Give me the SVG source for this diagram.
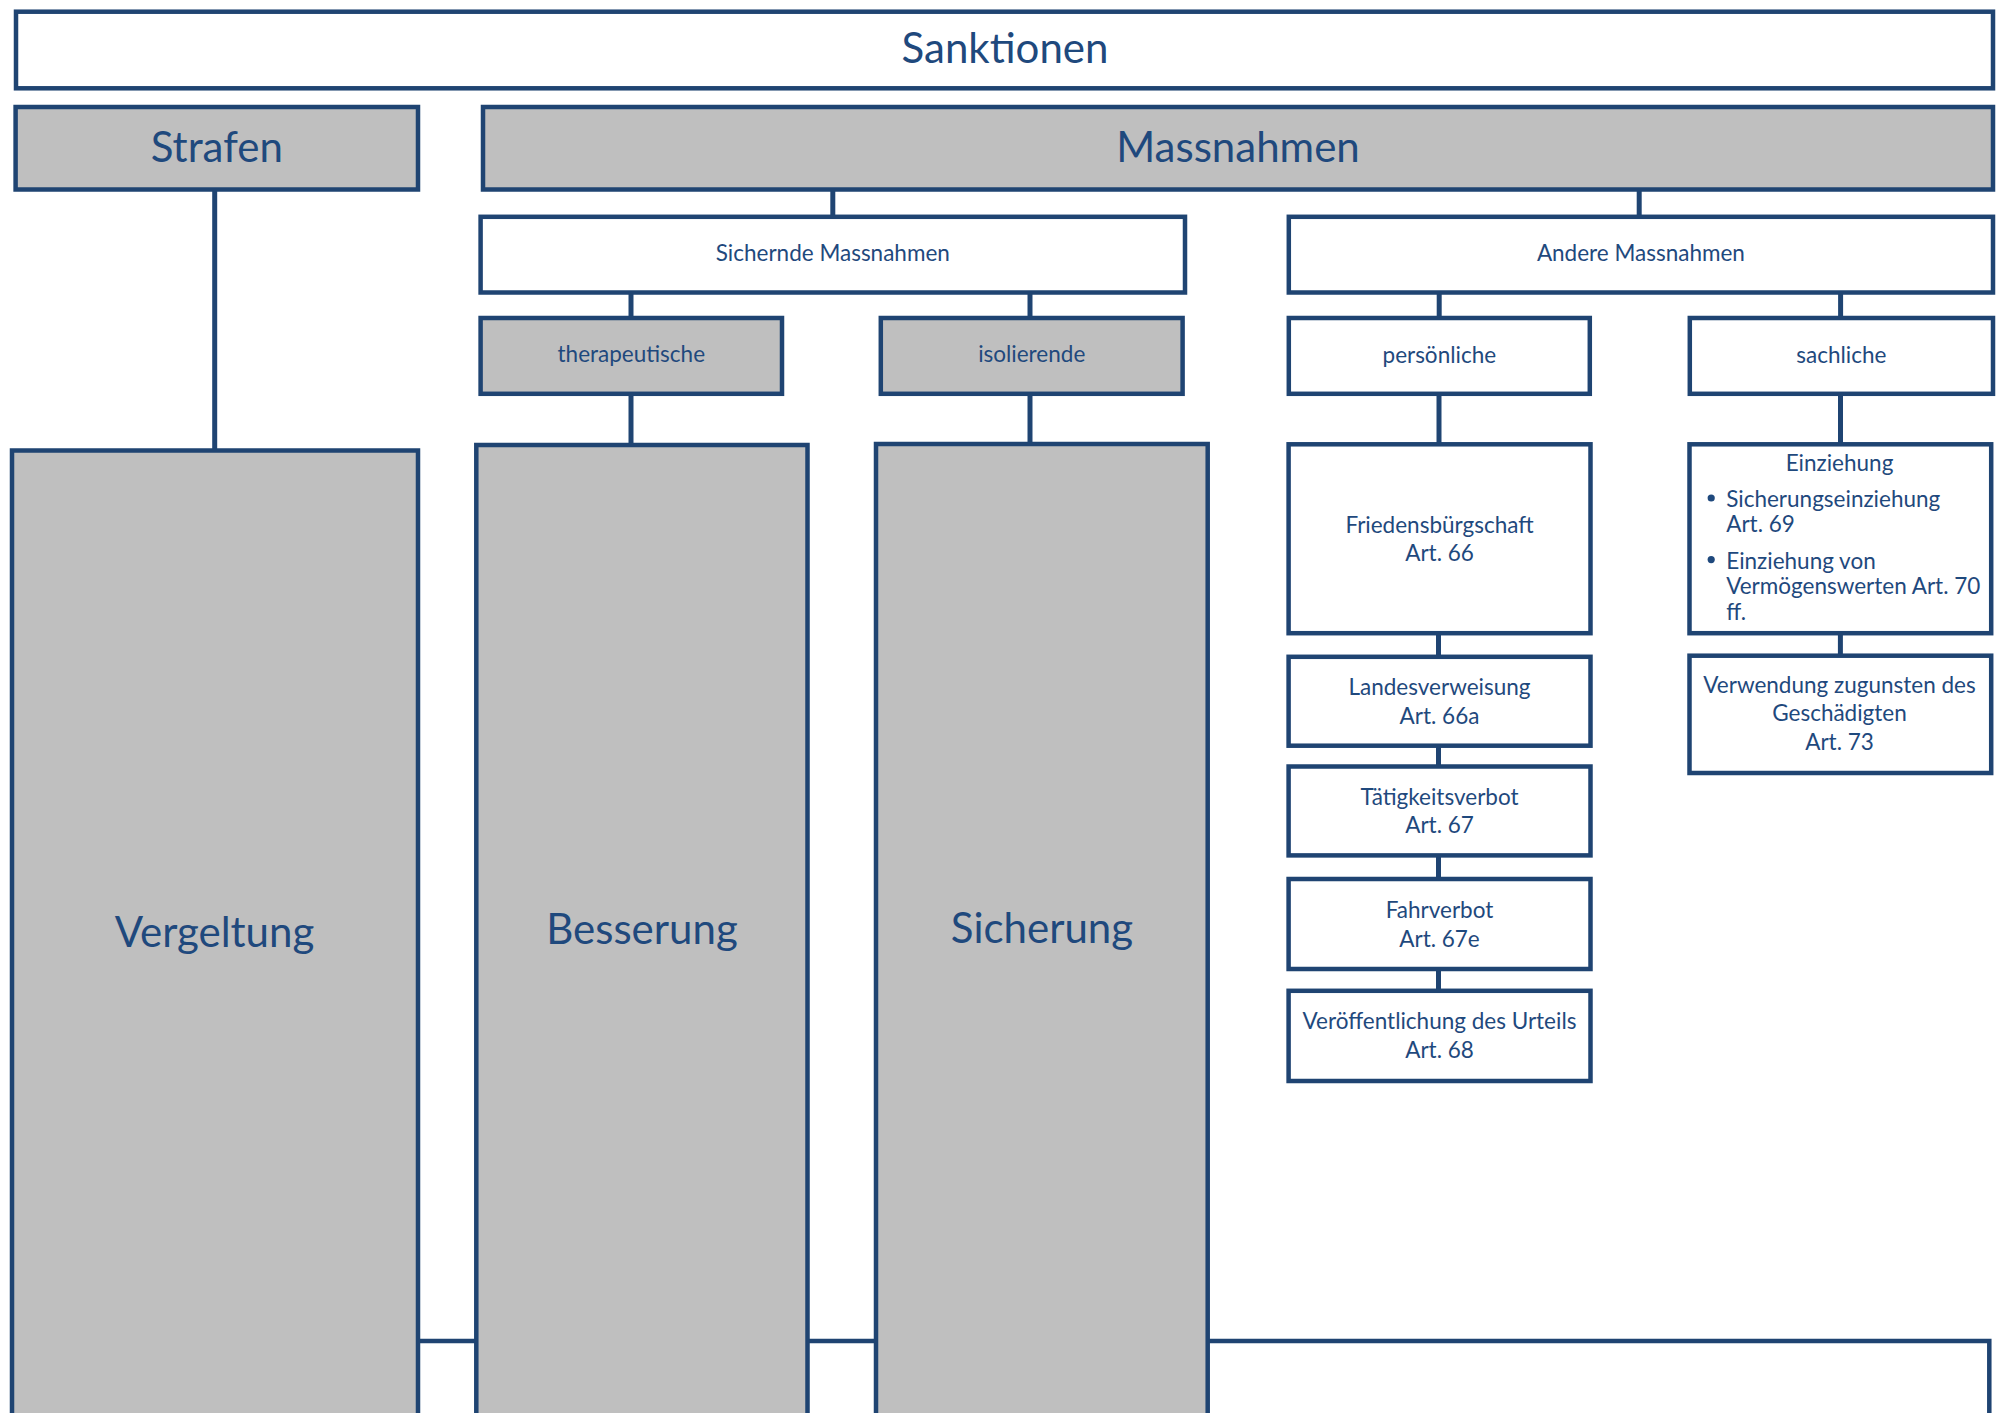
<svg xmlns="http://www.w3.org/2000/svg" width="2011" height="1413" viewBox="0 0 2011 1413">
  <style>
    .box { fill: #ffffff; stroke: #1F4472; stroke-width: 4.5; }
    .grey { fill: #BFBFBF; stroke: #1F4472; stroke-width: 4.5; }
    .link { stroke: #1F4472; stroke-width: 5; fill: none; }
    text { font-family: Lato, "Open Sans", "Liberation Sans", sans-serif; fill: #1F497D; }
    .big { font-size: 42px; text-anchor: middle; }
    .small { font-size: 22.5px; text-anchor: middle; }
    .left { font-size: 22.5px; text-anchor: start; }
  </style>

  <rect width="2011" height="1413" fill="#ffffff"/>

  <!-- base frame behind the tall columns -->
  <g id="basis">
    <rect class="box" x="20" y="1341" width="1969.3" height="200"/>
  </g>

  <!-- connectors -->
  <g id="connectors">
    <line class="link" x1="214.7" y1="189.5" x2="214.7" y2="450.5"/>
    <line class="link" x1="832.8" y1="189.5" x2="832.8" y2="216.8"/>
    <line class="link" x1="1639.2" y1="189.5" x2="1639.2" y2="216.8"/>
    <line class="link" x1="631" y1="292.5" x2="631" y2="318"/>
    <line class="link" x1="1030" y1="292.5" x2="1030" y2="318"/>
    <line class="link" x1="1439.2" y1="292.5" x2="1439.2" y2="318"/>
    <line class="link" x1="1840.6" y1="292.5" x2="1840.6" y2="318"/>
    <line class="link" x1="631" y1="393.8" x2="631" y2="445"/>
    <line class="link" x1="1030" y1="393.8" x2="1030" y2="444"/>
    <line class="link" x1="1439" y1="393.8" x2="1439" y2="444.3"/>
    <line class="link" x1="1840.5" y1="393.8" x2="1840.5" y2="444.3"/>
    <line class="link" x1="1438.5" y1="633.2" x2="1438.5" y2="656.8"/>
    <line class="link" x1="1438.5" y1="745.7" x2="1438.5" y2="766.5"/>
    <line class="link" x1="1438.5" y1="855.4" x2="1438.5" y2="879"/>
    <line class="link" x1="1438.5" y1="969" x2="1438.5" y2="990.8"/>
    <line class="link" x1="1840.4" y1="633.2" x2="1840.4" y2="655.7"/>
  </g>

  <g id="sanktionen">
    <rect class="box" x="16" y="11.7" width="1977" height="76.6"/>
    <text class="big" x="1005" y="63">Sanktionen</text>
  </g>

  <g id="strafen">
    <rect class="grey" x="15.6" y="107" width="402.4" height="82.5"/>
    <text class="big" x="216.8" y="162">Strafen</text>
  </g>

  <g id="massnahmen">
    <rect class="grey" x="483" y="107" width="1510" height="82.5"/>
    <text class="big" x="1238" y="162">Massnahmen</text>
  </g>

  <g id="sichernde-massnahmen">
    <rect class="box" x="480.6" y="216.8" width="704.4" height="75.7"/>
    <text class="small" x="832.8" y="260.7">Sichernde Massnahmen</text>
  </g>

  <g id="andere-massnahmen">
    <rect class="box" x="1288.8" y="216.8" width="704.2" height="75.7"/>
    <text class="small" x="1640.9" y="260.7">Andere Massnahmen</text>
  </g>

  <g id="therapeutische">
    <rect class="grey" x="480.6" y="318" width="301.4" height="75.8"/>
    <text class="small" x="631.3" y="361.7">therapeutische</text>
  </g>

  <g id="isolierende">
    <rect class="grey" x="880.8" y="318" width="301.8" height="75.8"/>
    <text class="small" x="1031.7" y="361.7">isolierende</text>
  </g>

  <g id="persoenliche">
    <rect class="box" x="1288.8" y="318" width="301" height="75.8"/>
    <text class="small" x="1439.3" y="362.7">persönliche</text>
  </g>

  <g id="sachliche">
    <rect class="box" x="1689.8" y="318" width="303.2" height="75.8"/>
    <text class="small" x="1841.4" y="362.7">sachliche</text>
  </g>

  <g id="vergeltung">
    <rect class="grey" x="12" y="450.5" width="406" height="1100"/>
    <text class="big" x="214.5" y="947">Vergeltung</text>
  </g>

  <g id="besserung">
    <rect class="grey" x="476.3" y="445" width="331.2" height="1100"/>
    <text class="big" x="642" y="944.3">Besserung</text>
  </g>

  <g id="sicherung">
    <rect class="grey" x="876" y="444" width="331.7" height="1100"/>
    <text class="big" x="1042" y="943.3">Sicherung</text>
  </g>

  <g id="friedensbuergschaft">
    <rect class="box" x="1288.6" y="444.3" width="301.9" height="188.9"/>
    <text class="small" x="1439.5" y="532.7">Friedensbürgschaft</text>
    <text class="small" x="1439.5" y="561">Art. 66</text>
  </g>

  <g id="landesverweisung">
    <rect class="box" x="1288.6" y="656.8" width="301.9" height="88.9"/>
    <text class="small" x="1439.5" y="695.4">Landesverweisung</text>
    <text class="small" x="1439.5" y="723.6">Art. 66a</text>
  </g>

  <g id="taetigkeitsverbot">
    <rect class="box" x="1288.6" y="766.5" width="301.9" height="88.9"/>
    <text class="small" x="1439.5" y="805">Tätigkeitsverbot</text>
    <text class="small" x="1439.5" y="832.8">Art. 67</text>
  </g>

  <g id="fahrverbot">
    <rect class="box" x="1288.6" y="879" width="301.9" height="90"/>
    <text class="small" x="1439.5" y="917.8">Fahrverbot</text>
    <text class="small" x="1439.5" y="946.9">Art. 67e</text>
  </g>

  <g id="veroeffentlichung">
    <rect class="box" x="1288.6" y="990.8" width="301.9" height="90.2"/>
    <text class="small" x="1439.5" y="1029.3">Veröffentlichung des Urteils</text>
    <text class="small" x="1439.5" y="1058.3">Art. 68</text>
  </g>

  <g id="einziehung">
    <rect class="box" x="1689.5" y="444.3" width="301.7" height="188.9"/>
    <text class="small" x="1839.5" y="470.5">Einziehung</text>
    <circle cx="1711.2" cy="498" r="3.6" fill="#1F497D"/>
    <text class="left" x="1726.2" y="506.7">Sicherungseinziehung</text>
    <text class="left" x="1726.2" y="531.9">Art. 69</text>
    <circle cx="1711.2" cy="559.6" r="3.6" fill="#1F497D"/>
    <text class="left" x="1726.2" y="568.7">Einziehung von</text>
    <text class="left" x="1726.2" y="593.5">Vermögenswerten Art. 70</text>
    <text class="left" x="1726.2" y="619.5">ff.</text>
  </g>

  <g id="verwendung">
    <rect class="box" x="1689.5" y="655.7" width="301.7" height="117.3"/>
    <text class="small" x="1839.5" y="693.2">Verwendung zugunsten des</text>
    <text class="small" x="1839.5" y="721.4">Geschädigten</text>
    <text class="small" x="1839.5" y="749.6">Art. 73</text>
  </g>
</svg>
